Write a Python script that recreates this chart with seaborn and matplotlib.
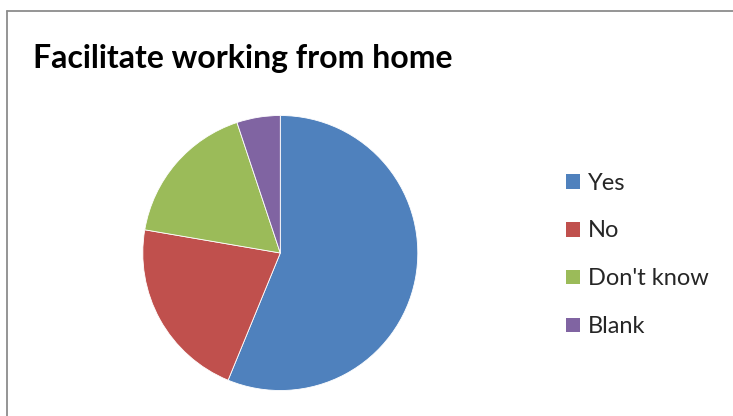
import matplotlib
matplotlib.use("Agg")
import matplotlib.pyplot as plt
import matplotlib.patches as mpatches
from matplotlib.lines import Line2D
import seaborn as sns

# Survey answers, share of respondents (%)
categories = ["Yes", "No", "Don't know", "Blank"]
shares = [56.2, 21.5, 17.2, 5.1]
colors = ["#4F81BD", "#C0504D", "#9BBB59", "#8064A2"]
title = "Facilitate working from home"

sns.set_theme(style="white")
plt.rcParams["font.family"] = ["Lato", "DejaVu Sans"]

W, H = 733, 416
fig = plt.figure(figsize=(W / 100, H / 100), dpi=100)
fig.patch.set_facecolor("white")

# chart-area border (runs off the right and bottom edges)
fig.add_artist(Line2D([7 / W, 1.0], [1 - 11 / H, 1 - 11 / H],
                      transform=fig.transFigure, color="#8c8c8c", lw=1.3))
fig.add_artist(Line2D([7 / W, 7 / W], [0.0, 1 - 11 / H],
                      transform=fig.transFigure, color="#8c8c8c", lw=1.3))

# pie placed as a square of 275 px centred at (280, 253)
cx, cy, r = 280.3, 253.0, 137.5
ax = fig.add_axes([(cx - r) / W, (H - cy - r) / H, 2 * r / W, 2 * r / H])
wedges, _ = ax.pie(shares, colors=colors, startangle=90, counterclock=False,
                   radius=1.0, wedgeprops=dict(edgecolor="white", linewidth=0.6))
ax.set_xlim(-1, 1)
ax.set_ylim(-1, 1)
ax.set_aspect("equal")
ax.axis("off")

fig.text(33 / W, 1 - 68 / H, title, fontsize=23, fontweight="bold",
         color="black", ha="left", va="baseline")

handles = [mpatches.Patch(facecolor=c, edgecolor="none") for c in colors]
fig.legend(handles, categories, loc="upper left",
           bbox_to_anchor=(566 / W, 1 - 172.5 / H), frameon=False,
           fontsize=17, handlelength=0.59, handleheight=0.59, handletextpad=0.34,
           labelspacing=1.14, borderpad=0, borderaxespad=0)

fig.savefig("out.png", dpi=100, facecolor="white")
